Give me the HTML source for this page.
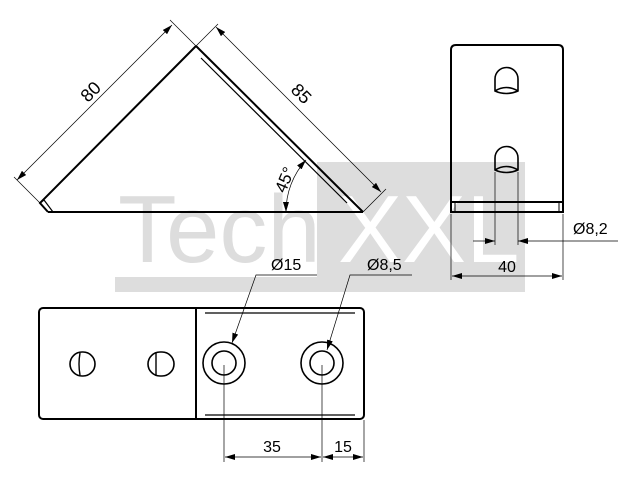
<!DOCTYPE html>
<html><head><style>html,body{margin:0;padding:0;background:#fff}svg{display:block}</style></head>
<body>
<svg width="640" height="480" viewBox="0 0 640 480" xmlns="http://www.w3.org/2000/svg" font-family="Liberation Sans, sans-serif">
<defs>
<marker id="a" viewBox="0 0 10 6" refX="10" refY="3" markerWidth="10" markerHeight="6" orient="auto-start-reverse" markerUnits="userSpaceOnUse"><path d="M0,0 L10,3 L0,6z" fill="#000"/></marker>
</defs>
<rect x="115" y="277" width="410" height="15" fill="#ddd"/>
<rect x="317" y="162" width="208" height="130" fill="#ddd"/>
<text x="118" y="262" font-size="96" fill="#ddd">Tech</text>
<text x="338" y="262" font-size="96" fill="#fff">XXL</text>

<g stroke="#000" fill="none">
<path d="M48,212 L363,212 M196,46 L363,212 M196,46 L40,203 L48,212" stroke-width="2"/>
<path d="M40,203 L44,200 L53,212" stroke-width="1.2"/>
<path d="M201,58 L347,203" stroke-width="1.2"/>
<g stroke-width="0.7">
<path d="M40,203 L14,177 M196,46 L170,20 M196,46 L218,24 M363,212 L386,189"/>
<path d="M17,180 L172,25" marker-start="url(#a)" marker-end="url(#a)"/>
<path d="M216,27 L381,192" marker-start="url(#a)" marker-end="url(#a)"/>
<path d="M286,212 A77,77 0 0 1 306,160" marker-start="url(#a)" marker-end="url(#a)"/>
</g>
<path d="M451,212 L451,50 Q451,45 456,45 L558,45 Q563,45 563,50 L563,212 Z" stroke-width="2"/>
<path d="M451,202 L563,202" stroke-width="2"/>
<path d="M455,203 L455,211 M559,203 L559,211" stroke-width="1"/>
<path d="M495,79 L495,91 Q506,96 518,91 L518,79 A11.5,11.5 0 0 0 495,79 Z M495,91 Q506,84 518,91" stroke-width="1.6"/>
<path d="M495,158 L495,170 Q506,175 518,170 L518,158 A11.5,11.5 0 0 0 495,158 Z M495,170 Q506,163 518,170" stroke-width="1.6"/>
<g stroke-width="0.7">
<path d="M495,172 L495,245 M518,172 L518,245 M451,214 L451,280 M563,214 L563,280"/>
<path d="M473,241 L495,241" marker-end="url(#a)"/>
<path d="M618,241 L518,241" marker-end="url(#a)"/>
<path d="M452,276 L562,276" marker-start="url(#a)" marker-end="url(#a)"/>
</g>
<rect x="39" y="308" width="325" height="111" rx="4" stroke-width="2"/>
<path d="M196,308 L196,419" stroke-width="2"/>
<path d="M205,313 L355,313 M205,415 L355,415" stroke-width="1.2"/>
<rect x="70" y="352" width="25" height="24" rx="12" stroke-width="1.6"/>
<path d="M80,353 Q78,364 80,375" stroke-width="1.4"/>
<rect x="148" y="352" width="26" height="24" rx="12" stroke-width="1.6"/>
<path d="M156,353 L156,375" stroke-width="1.4"/>
<circle cx="224" cy="363" r="21" stroke-width="1.6"/>
<circle cx="224" cy="363" r="12" stroke-width="1.6"/>
<circle cx="322" cy="363" r="21" stroke-width="1.6"/>
<circle cx="322" cy="363" r="12" stroke-width="1.6"/>
<g stroke-width="0.7">
<path d="M224,365 L224,462 M322,365 L322,462 M364,420 L364,462"/>
<path d="M225,457 L321,457" marker-start="url(#a)" marker-end="url(#a)"/>
<path d="M323,457 L363,457" marker-start="url(#a)" marker-end="url(#a)"/>
<path d="M317,275 L256,275 L232,343" marker-end="url(#a)"/>
<path d="M412,275 L350,275 L327,350" marker-end="url(#a)"/>
</g>
</g>
<g font-size="16" fill="#000">
<text transform="translate(95,96) rotate(-45)" text-anchor="middle" font-size="18">80</text>
<text transform="translate(297,98) rotate(45)" text-anchor="middle" font-size="18">85</text>
<text transform="translate(290,182) rotate(-67)" text-anchor="middle" font-size="17">45°</text>
<text x="573" y="234">Ø8,2</text>
<text x="507" y="272" text-anchor="middle">40</text>
<text x="271" y="270">Ø15</text>
<text x="367" y="270">Ø8,5</text>
<text x="272" y="452" text-anchor="middle">35</text>
<text x="343" y="452" text-anchor="middle">15</text>
</g>
</svg>
</body></html>
